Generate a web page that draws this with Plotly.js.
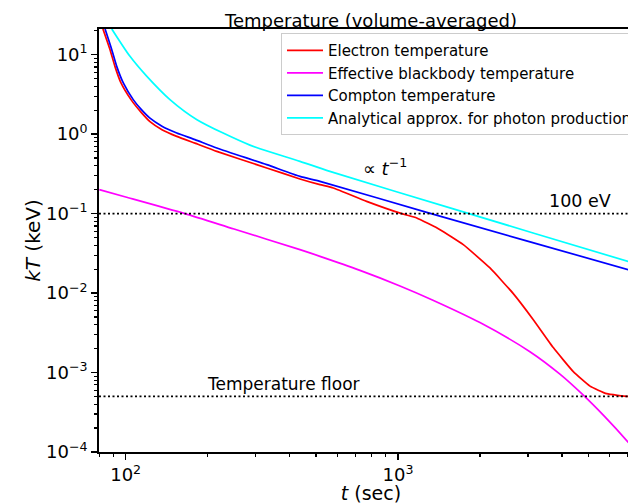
<!DOCTYPE html>
<html>
<head>
<meta charset="utf-8">
<script src="https://cdn.plot.ly/plotly-3.0.1.min.js"></script>
<style>
  html, body { margin: 0; padding: 0; overflow: hidden; background: #fff; }
  #chart { width: 690px; height: 504px; }
</style>
</head>
<body>
<div id="chart"></div>
<script>
// Volume-averaged temperatures (kT in keV) versus time t (sec)

// Electron temperature
const tElectron  = [82.5, 87.6, 91.3, 96.1, 104.6, 113.8, 122.8, 135.9, 154, 179.7, 216, 329.6, 436.5, 517, 578.6, 767, 1032, 1172, 1427, 1737, 2177, 2651, 3140, 3718, 4404, 5072, 5840, 7000, 7940];
const kTElectron = [21.1, 11.57, 7.13, 4.41, 2.72, 1.892, 1.437, 1.139, 0.938, 0.770, 0.607, 0.3755, 0.273, 0.2314, 0.2104, 0.1427, 0.0999, 0.0882, 0.0628, 0.0407, 0.0207, 0.00984, 0.00463, 0.00206, 0.001026, 0.000674, 0.000542, 0.0005, 0.0005];

// Effective blackbody temperature
const tBlackbody  = [80, 100, 165, 250, 436.5, 517, 725, 1017, 1344, 2000, 3052, 3934, 4741, 5757, 7000, 7940];
const kTBlackbody = [0.200, 0.162, 0.100, 0.064, 0.0352, 0.029, 0.0193, 0.0123, 0.00814, 0.00425, 0.00183, 0.000954, 0.000537, 0.000276, 0.000133, 0.00008];

// Compton temperature
const tCompton  = [84.0, 88.9, 92.7, 98.0, 106.6, 113.8, 122.8, 135.9, 154, 179.7, 216, 329.6, 436.5, 517, 1275, 7000, 7940];
const kTCompton = [21.1, 11.57, 7.13, 4.41, 2.72, 2.064, 1.590, 1.261, 1.035, 0.853, 0.670, 0.413, 0.294, 0.255, 0.1037, 0.0197, 0.0174];

// Analytical approximation for photon production
const tAnalytic  = [88.9, 103.7, 119.4, 145.4, 182.7, 286, 436.5, 562, 1552, 7000, 7940];
const kTAnalytic = [21.1, 9.53, 5.37, 2.72, 1.52, 0.727, 0.455, 0.340, 0.118, 0.025, 0.0221];

// Reference levels (keV)
const level100eV = 0.1;
const floorLevel = 0.0005;

// Axis tick labels
const xTickVals = [100, 1000];
const xTickText = ['10<sup>2</sup>', '10<sup>3</sup>'];
const yTickVals = [1e-4, 1e-3, 1e-2, 1e-1, 1, 10];
const yTickText = ['10<sup>−4</sup>', '10<sup>−3</sup>', '10<sup>−2</sup>', '10<sup>−1</sup>', '10<sup>0</sup>', '10<sup>1</sup>'];

const xRange = [Math.log10(79.8), Math.log10(7940)];
const yRange = [-4, Math.log10(21.05)];

const FONT = 'DejaVu Sans, sans-serif';

// minor tick positions 2..9 x 10^k inside a log range
function minorTicks(lo, hi) {
  const out = [];
  for (let k = Math.floor(lo); k <= Math.ceil(hi); k++) {
    for (let m = 2; m <= 9; m++) {
      const v = m * Math.pow(10, k);
      const lv = Math.log10(v);
      if (lv >= lo && lv <= hi) out.push(v);
    }
  }
  return out;
}

const xEnds = xRange.map(v => Math.pow(10, v));

const traces = [
  { x: tElectron,  y: kTElectron,  name: 'Electron temperature',
    mode: 'lines', line: { color: '#ff0000', width: 1.7, shape: 'spline', smoothing: 0.4 } },
  { x: tBlackbody, y: kTBlackbody, name: 'Effective blackbody temperature',
    mode: 'lines', line: { color: '#ff00ff', width: 1.7, shape: 'spline', smoothing: 0.7 } },
  { x: tCompton,   y: kTCompton,   name: 'Compton temperature',
    mode: 'lines', line: { color: '#0000ff', width: 1.7, shape: 'spline', smoothing: 0.6 } },
  { x: tAnalytic,  y: kTAnalytic,  name: 'Analytical approx. for photon production',
    mode: 'lines', line: { color: '#00ffff', width: 1.7, shape: 'spline', smoothing: 0.7 } },
  { x: xEnds, y: [level100eV, level100eV],
    mode: 'lines', showlegend: false, line: { color: '#000', width: 1.8, dash: '2px,2.5px' } },
  { x: xEnds, y: [floorLevel, floorLevel],
    mode: 'lines', showlegend: false, line: { color: '#000', width: 1.8, dash: '2px,2.5px' } }
];

const axisCommon = {
  type: 'log',
  showline: true, linecolor: '#000', linewidth: 1.8, mirror: true,
  ticks: 'outside', ticklen: 6, tickwidth: 1.5, tickcolor: '#000',
  showgrid: false, zeroline: false,
  tickmode: 'array',
  tickfont: { family: FONT, size: 18, color: '#000' }
};

const layout = {
  width: 690, height: 504,
  margin: { l: 99, r: 47, t: 29, b: 52 },
  paper_bgcolor: '#fff', plot_bgcolor: '#fff',
  font: { family: FONT, color: '#000' },
  title: { text: 'Temperature (volume-averaged)', font: { family: FONT, size: 18, color: '#000' },
           x: 0.5, xref: 'paper', xanchor: 'center', y: 1, yref: 'paper', yanchor: 'bottom', pad: { b: 2 } },
  xaxis: Object.assign({}, axisCommon, {
    range: xRange, tickvals: xTickVals, ticktext: xTickText,
    minor: { tickmode: 'array', tickvals: minorTicks(xRange[0], xRange[1]),
             ticks: 'outside', ticklen: 3.5, tickwidth: 1.2, tickcolor: '#000', showgrid: false },
    title: { text: '<i>t</i> (sec)', font: { family: FONT, size: 19, color: '#000' }, standoff: 2 }
  }),
  yaxis: Object.assign({}, axisCommon, {
    range: yRange, tickvals: yTickVals, ticktext: yTickText,
    minor: { tickmode: 'array', tickvals: minorTicks(yRange[0], yRange[1]),
             ticks: 'outside', ticklen: 3.5, tickwidth: 1.2, tickcolor: '#000', showgrid: false },
    title: { text: '<i>kT</i> (keV)', font: { family: FONT, size: 20, color: '#000' }, standoff: 0 }
  }),
  showlegend: true,
  legend: {
    x: (281 - 99) / 544, y: 1 - (33.5 - 29.3) / 423, xanchor: 'left', yanchor: 'top',
    bgcolor: 'rgba(255,255,255,0.9)', bordercolor: '#cccccc', borderwidth: 1,
    font: { family: FONT, size: 15, color: '#000' }, itemwidth: 36
  },
  annotations: [
    { x: Math.log10(4641), y: Math.log10(level100eV), xref: 'x', yref: 'y', text: '100 eV',
      showarrow: false, yshift: 13, font: { family: FONT, size: 17.5, color: '#000' } },
    { x: Math.log10(379), y: Math.log10(floorLevel), xref: 'x', yref: 'y', text: 'Temperature floor',
      showarrow: false, yshift: 12, font: { family: FONT, size: 17, color: '#000' } },
    { x: Math.log10(895), y: Math.log10(0.385), xref: 'x', yref: 'y', text: '∝ <i>t</i><sup>−1</sup>',
      showarrow: false, font: { family: FONT, size: 18, color: '#000' } }
  ]
};

Plotly.newPlot('chart', traces, layout, { displayModeBar: false, staticPlot: true });
</script>
</body>
</html>
